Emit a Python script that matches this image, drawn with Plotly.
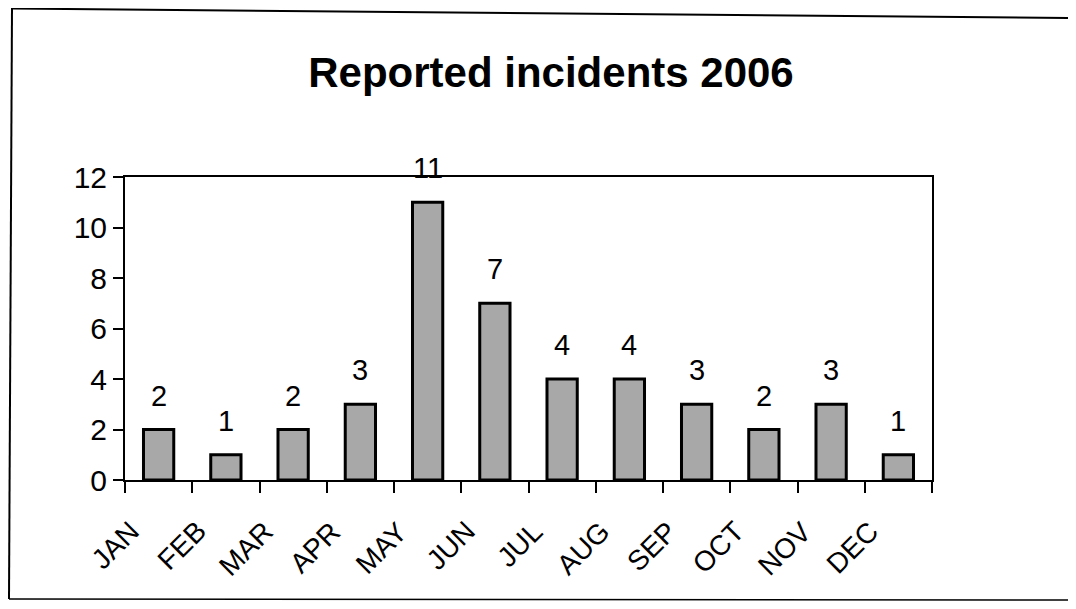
import plotly.graph_objects as go

months = ["JAN", "FEB", "MAR", "APR", "MAY", "JUN", "JUL", "AUG", "SEP", "OCT", "NOV", "DEC"]
incidents = [2, 1, 2, 3, 11, 7, 4, 4, 3, 2, 3, 1]
y_ticks = [0, 2, 4, 6, 8, 10, 12]

# page body has an 8px margin, so the figure is 16px smaller than the window
W, H = 1060, 593
L, R, T, B = 117, 136, 169, 121
FONT = "Liberation Sans, Arial"

fig = go.Figure(go.Bar(
    x=months, y=incidents,
    marker=dict(color="#a8a8a8", line=dict(color="black", width=3)),
    width=0.45,
))

pw, ph = W - L - R, H - T - B
def px_x(px):
    return (px - L) / pw
def px_y(py):
    return (H - B - py) / ph

annotations = []
for m, v in zip(months, incidents):
    annotations.append(dict(
        x=m, y=v, xref="x", yref="y", text=str(v), showarrow=False,
        xanchor="center", yanchor="bottom", yshift=16,
        font=dict(family=FONT, size=29, color="black"),
    ))
    annotations.append(dict(
        x=m, y=0, xref="x", yref="y", text=m, showarrow=False,
        textangle=-45, xanchor="right", yanchor="top",
        xshift=-11, yshift=-33,
        font=dict(family=FONT, size=28, color="black"),
    ))

fig.update_layout(
    width=W, height=H,
    margin=dict(l=L, r=R, t=T, b=B),
    paper_bgcolor="white", plot_bgcolor="white",
    showlegend=False,
    title=dict(text="<b>Reported incidents 2006</b>", x=543 / W,
               xanchor="center", y=1 - 64 / H, yanchor="middle",
               font=dict(family=FONT, size=42, color="black")),
    font=dict(family=FONT, size=28, color="black"),
    xaxis=dict(type="category", range=[-0.5, 11.5],
               showline=True, linecolor="black", linewidth=2, mirror=True,
               ticks="outside", ticklen=11, tickcolor="black", tickwidth=1.5,
               tickson="boundaries", showticklabels=False, showgrid=False),
    yaxis=dict(range=[0, 12], tickvals=y_ticks, showline=True, linecolor="black",
               linewidth=2, mirror=True, ticks="outside", ticklen=10,
               tickcolor="black", tickwidth=1.5, showgrid=False,
               tickfont=dict(family=FONT, size=30, color="black"), zeroline=False),
    annotations=annotations,
    shapes=[
        dict(type="line", xref="paper", yref="paper",
             x0=px_x(4), y0=px_y(0.5), x1=px_x(1060), y1=px_y(10),
             line=dict(color="black", width=2)),
        dict(type="line", xref="paper", yref="paper",
             x0=px_x(4), y0=px_y(0), x1=px_x(1), y1=px_y(591),
             line=dict(color="black", width=2)),
        dict(type="line", xref="paper", yref="paper",
             x0=px_x(1), y0=px_y(591), x1=px_x(1060), y1=px_y(592),
             line=dict(color="black", width=1.5)),
    ],
)

fig.write_html("out.html")
